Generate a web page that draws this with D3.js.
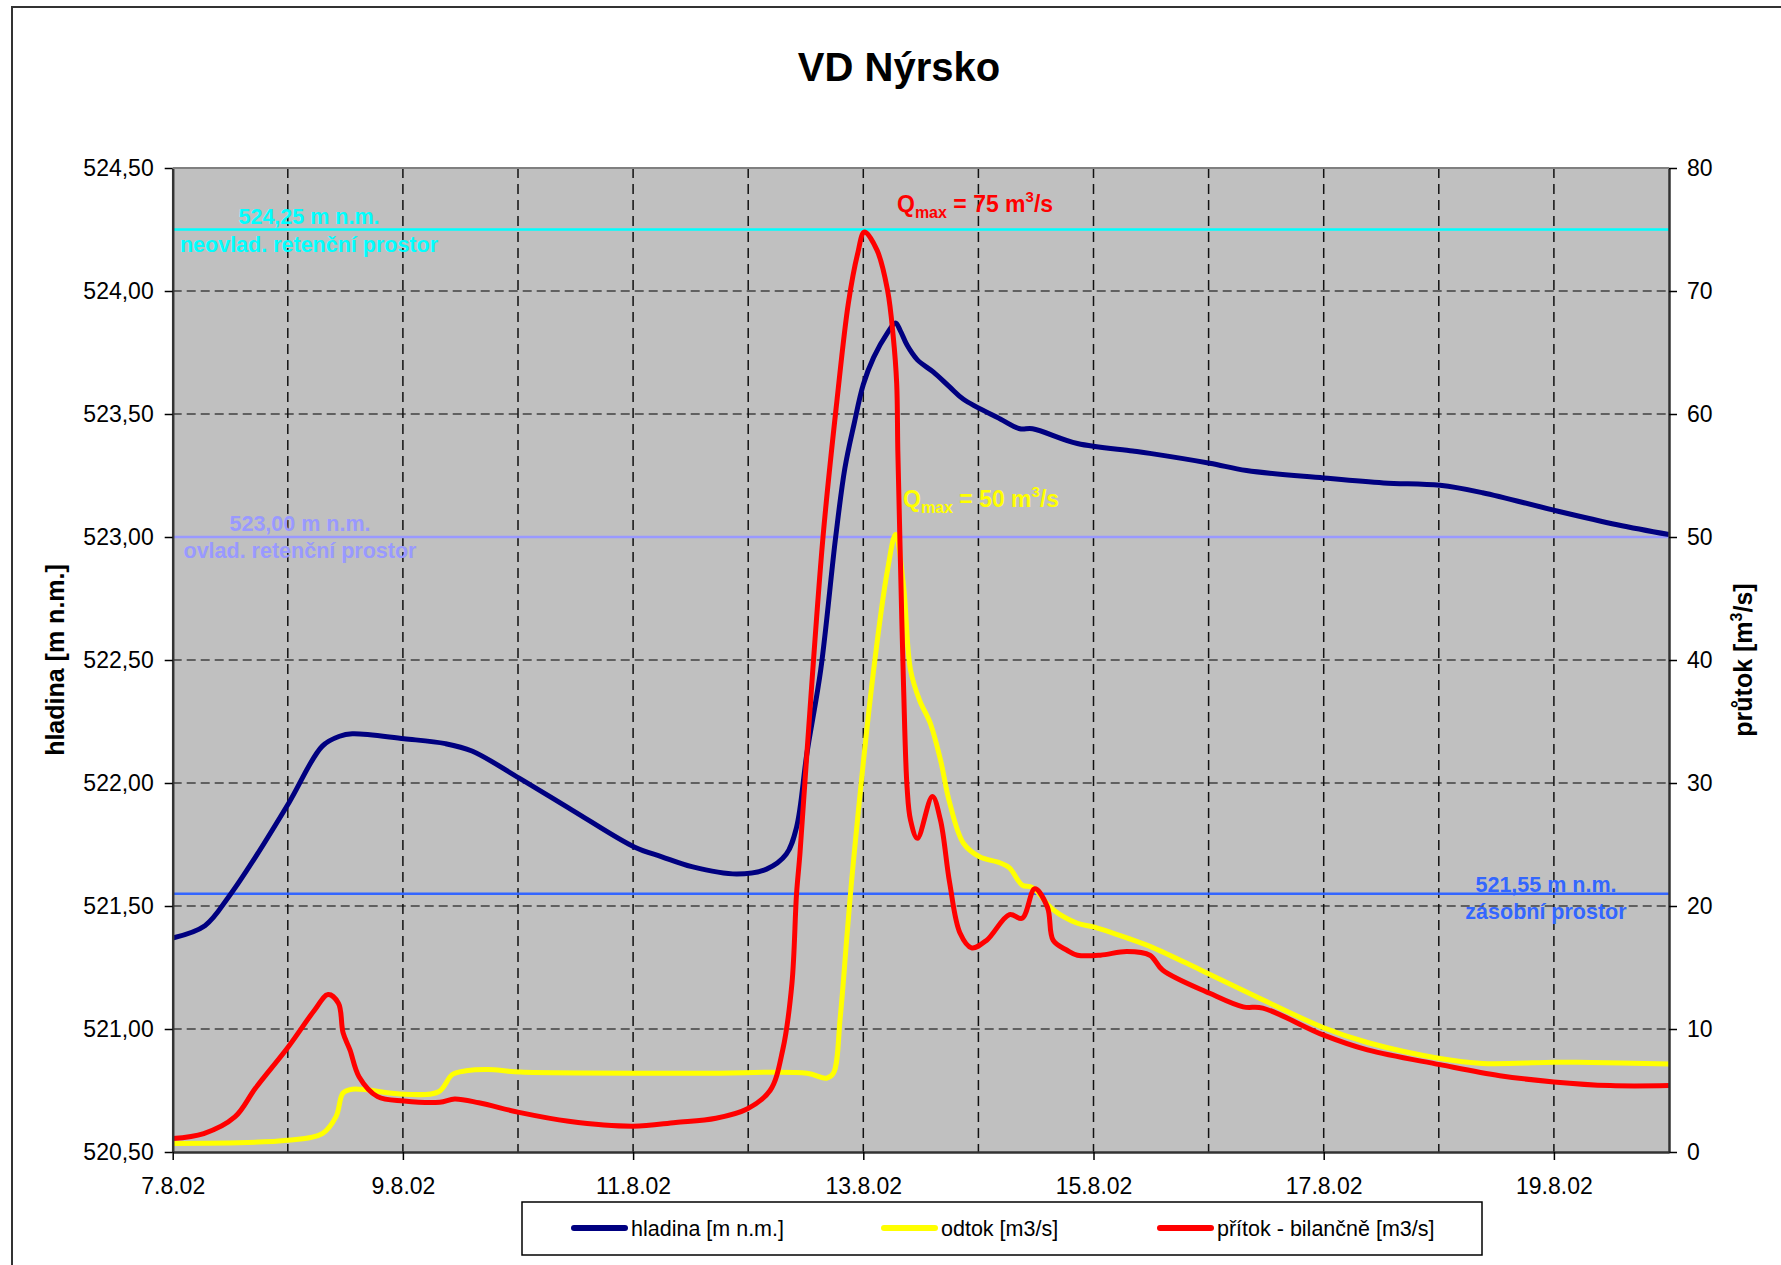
<!DOCTYPE html>
<html>
<head>
<meta charset="utf-8">
<script src="https://cdn.jsdelivr.net/npm/d3@7"></script>
<style>
  body { margin: 0; background: #fff; }
  svg { display: block; }
  text { font-family: Arial, "Liberation Sans", sans-serif; }
</style>
</head>
<body>
<svg id="chart" width="1781" height="1265"></svg>
<script>
// Time is given in days after 7.8.2002 00:00

// hladina [m n.m.]
var hladinaDays = [0, 0.28, 0.49, 0.72, 1.01, 1.30, 1.45, 1.56, 2.01, 2.37, 2.60, 3.01, 3.47, 4.01, 4.25, 4.51, 4.90, 5.16, 5.33, 5.42,
    5.51, 5.63, 5.76, 5.84, 5.92, 6.00, 6.09, 6.21, 6.28, 6.32, 6.38, 6.47, 6.61, 6.75, 6.87, 7.19, 7.36, 7.47, 7.86, 8.34,
    8.49, 9.01, 9.33, 10.0, 10.52, 11.01, 11.38, 11.99, 12.55, 13.0];
var hladina = [521.37, 521.42, 521.54, 521.70, 521.92, 522.15, 522.19, 522.20, 522.18, 522.16, 522.13, 522.02, 521.89, 521.74, 521.70, 521.66, 521.63, 521.65, 521.71, 521.82,
    522.12, 522.46, 523.00, 523.28, 523.46, 523.62, 523.73, 523.83, 523.87, 523.84, 523.78, 523.72, 523.67, 523.61, 523.56, 523.48, 523.44, 523.44, 523.38, 523.35,
    523.34, 523.30, 523.27, 523.24, 523.22, 523.21, 523.18, 523.11, 523.05, 523.01];

// odtok [m3/s]
var odtokDays = [0, 1.0, 1.30, 1.42, 1.48, 1.56, 2.01, 2.31, 2.43, 2.55, 2.74, 3.02, 4.58, 5.51, 5.68, 5.74, 5.80, 5.86, 5.91,
    6.09, 6.21, 6.28, 6.35, 6.41, 6.49, 6.58, 6.67, 6.75, 6.87, 7.01, 7.19, 7.27, 7.38, 7.47, 7.65, 7.86, 8.00, 8.29, 8.52,
    8.93, 9.42, 10.0, 10.38, 11.01, 11.38, 12.0, 12.2, 13.0];
var odtok = [0.7, 0.95, 1.5, 2.9, 4.8, 5.1, 4.7, 4.9, 6.3, 6.6, 6.7, 6.5, 6.4, 6.4, 6.0, 6.4, 11, 17.8, 23.2,
    39.2, 47.3, 50.2, 46, 39.2, 36.7, 34.9, 31.9, 28.4, 25.1, 24, 23.5, 23.1, 21.7, 21.5, 19.7, 18.6, 18.3, 17.4, 16.6,
    14.8, 12.6, 10.1, 8.9, 7.6, 7.2, 7.3, 7.3, 7.15];

// přítok - bilančně [m3/s]
var pritokDays = [0, 0.27, 0.54, 0.72, 1.0, 1.23, 1.35, 1.44, 1.48, 1.54, 1.62, 1.78, 2.01, 2.32, 2.45, 2.66, 3.02, 3.44, 4.0, 4.37,
    4.72, 4.99, 5.19, 5.30, 5.38, 5.42, 5.45, 5.51, 5.65, 5.77, 5.87, 5.95, 6.01, 6.12, 6.21, 6.26, 6.29, 6.30, 6.32, 6.35,
    6.38, 6.41, 6.47, 6.60, 6.67, 6.75, 6.84, 6.94, 7.07, 7.27, 7.38, 7.49, 7.60, 7.65, 7.77, 7.86, 8.06, 8.29, 8.49, 8.60,
    9.01, 9.30, 9.47, 10.0, 10.38, 11.01, 11.53, 12.0, 12.49, 13.0];
var pritok = [1.1, 1.5, 2.85, 5.2, 8.5, 11.5, 12.8, 12.1, 9.7, 8.3, 6.1, 4.5, 4.15, 4.05, 4.3, 4.0, 3.2, 2.5, 2.1, 2.4,
    2.75, 3.5, 5.0, 8.3, 13.7, 21, 24.3, 32.4, 50, 61, 69, 73, 74.8, 73.3, 70.1, 66.3, 62.5, 57, 49, 37.8,
    29.7, 27, 25.5, 28.9, 27, 21.9, 17.8, 16.6, 17.2, 19.3, 19.0, 21.4, 19.9, 17.2, 16.4, 16.0, 16.0, 16.3, 16.0, 14.8,
    12.9, 11.8, 11.7, 9.5, 8.3, 7.1, 6.2, 5.7, 5.4, 5.4];

// reference levels [m n.m.] and their labels
var refLevels = [524.25, 523.00, 521.55];
var refColors = ['#00FFFF', '#9999FF', '#3366FF'];
var refLabels = [
    ['524,25 m n.m.', 'neovlad. retenční prostor'],
    ['523,00 m n.m.', 'ovlad. retenční prostor'],
    ['521,55 m n.m.', 'zásobní prostor']
];

var levelTicks = [520.5, 521, 521.5, 522, 522.5, 523, 523.5, 524, 524.5];
var flowTicks = [0, 10, 20, 30, 40, 50, 60, 70, 80];
var dayTicks = [0, 2, 4, 6, 8, 10, 12];
var legendNames = ['hladina [m n.m.]', 'odtok [m3/s]', 'přítok - bilančně [m3/s]'];
var seriesColors = ['#000080', '#FFFF00', '#FF0000'];

var start = new Date(2002, 7, 7);
function toDate(d) { return new Date(start.getTime() + d * 86400000); }

var plot = { left: 172.7, right: 1669, top: 168, bottom: 1152 };
var svg = d3.select('#chart');

var czech = d3.formatLocale({ decimal: ',', thousands: ' ', grouping: [3], currency: ['', ' Kč'] });
var fmtLevel = czech.format('.2f');

var x = d3.scaleTime()
    .domain([start, toDate(13)])
    .range([plot.left, plot.right]);
var yL = d3.scaleLinear().domain([520.5, 524.5]).range([plot.bottom, plot.top]);
var yR = d3.scaleLinear().domain([0, 80]).range([plot.bottom, plot.top]);

//Outer frame (only top and left edge are visible on the original)
svg.append('rect')
    .attr('x', 12).attr('y', 7)
    .attr('width', 1800).attr('height', 1300)
    .attr('fill', 'none')
    .attr('stroke', '#333')
    .attr('stroke-width', 2);

svg.append('text')
    .attr('x', 899).attr('y', 81)
    .attr('text-anchor', 'middle')
    .attr('font-size', 40)
    .attr('font-weight', 'bold')
    .text('VD Nýrsko');

//Plot background
svg.append('rect')
    .attr('x', plot.left).attr('y', plot.top)
    .attr('width', plot.right - plot.left)
    .attr('height', plot.bottom - plot.top)
    .attr('fill', '#C0C0C0');

//Grid
var grid = svg.append('g').attr('class', 'grid');
grid.selectAll('.hgrid')
    .data(levelTicks.slice(1, -1))
    .enter().append('line')
    .attr('x1', plot.left).attr('x2', plot.right)
    .attr('y1', function(d) { return yL(d); })
    .attr('y2', function(d) { return yL(d); })
    .attr('stroke', '#404040')
    .attr('stroke-width', 1.5)
    .attr('stroke-dasharray', '9,5');
grid.selectAll('.vgrid')
    .data(d3.range(1, 13))
    .enter().append('line')
    .attr('x1', function(d) { return x(toDate(d)); })
    .attr('x2', function(d) { return x(toDate(d)); })
    .attr('y1', plot.top).attr('y2', plot.bottom)
    .attr('stroke', '#111')
    .attr('stroke-width', 1.5)
    .attr('stroke-dasharray', '10,6');

//Reference levels
svg.selectAll('.ref')
    .data(refLevels)
    .enter().append('line')
    .attr('x1', plot.left).attr('x2', plot.right)
    .attr('y1', function(d) { return yL(d); })
    .attr('y2', function(d) { return yL(d); })
    .attr('stroke', function(d, i) { return refColors[i]; })
    .attr('stroke-width', 2.5);

var refLabelX = [309, 300, 1546];
var refLabelDy = [[-6, 22], [-6, 21], [-2, 25]];
refLevels.forEach(function(lv, i) {
    var g = svg.append('g')
        .attr('fill', refColors[i])
        .attr('font-size', 21.5)
        .attr('font-weight', 'bold')
        .attr('text-anchor', 'middle');
    g.append('text')
        .attr('x', refLabelX[i]).attr('y', yL(lv) + refLabelDy[i][0])
        .text(refLabels[i][0]);
    g.append('text')
        .attr('x', refLabelX[i]).attr('y', yL(lv) + refLabelDy[i][1])
        .text(refLabels[i][1]);
});

//Series - smoothed like the original spreadsheet lines
var curve = d3.curveCatmullRom.alpha(0.5);
var lineL = d3.line().curve(curve)
    .x(function(d) { return x(toDate(d[0])); })
    .y(function(d) { return yL(d[1]); });
var lineR = d3.line().curve(curve)
    .x(function(d) { return x(toDate(d[0])); })
    .y(function(d) { return yR(d[1]); });

svg.append('path')
    .datum(d3.zip(hladinaDays, hladina))
    .attr('d', lineL)
    .attr('fill', 'none').attr('stroke', seriesColors[0])
    .attr('stroke-width', 5).attr('stroke-linejoin', 'round');
svg.append('path')
    .datum(d3.zip(odtokDays, odtok))
    .attr('d', lineR)
    .attr('fill', 'none').attr('stroke', seriesColors[1])
    .attr('stroke-width', 5).attr('stroke-linejoin', 'round');
svg.append('path')
    .datum(d3.zip(pritokDays, pritok))
    .attr('d', lineR)
    .attr('fill', 'none').attr('stroke', seriesColors[2])
    .attr('stroke-width', 5).attr('stroke-linejoin', 'round');

//Qmax labels
function qmaxLabel(xPos, yPos, color, value) {
    var t = svg.append('text')
        .attr('x', xPos).attr('y', yPos)
        .attr('fill', color)
        .attr('font-size', 23)
        .attr('font-weight', 'bold');
    t.append('tspan').text('Q');
    t.append('tspan').attr('font-size', 16).attr('dy', 6).text('max');
    t.append('tspan').attr('dy', -6).text(' = ' + value + ' m');
    t.append('tspan').attr('font-size', 15).attr('dy', -10).text('3');
    t.append('tspan').attr('dy', 10).text('/s');
}
qmaxLabel(897, 212, '#FF0000', d3.max(pritok).toFixed(0));
qmaxLabel(903, 507, '#FFFF00', d3.max(odtok).toFixed(0));

//Axes
var axisL = svg.append('g')
    .attr('transform', 'translate(' + plot.left + ',0)')
    .call(d3.axisLeft(yL).tickValues(levelTicks).tickFormat(fmtLevel).tickSize(8).tickSizeOuter(0).tickPadding(11));
var axisR = svg.append('g')
    .attr('transform', 'translate(' + plot.right + ',0)')
    .call(d3.axisRight(yR).tickValues(flowTicks).tickSize(8).tickSizeOuter(0).tickPadding(10));
var axisB = svg.append('g')
    .attr('transform', 'translate(0,' + plot.bottom + ')')
    .call(d3.axisBottom(x).tickValues(dayTicks.map(toDate))
        .tickFormat(d3.timeFormat('%-d.%-m.%y')).tickSize(8).tickSizeOuter(0));
axisB.selectAll('text').attr('dy', null).attr('y', 42);

[axisL, axisR, axisB].forEach(function(a) {
    a.selectAll('text').attr('font-size', 23).attr('font-family', null).attr('fill', '#000');
    a.selectAll('.tick line').attr('stroke', '#000').attr('stroke-width', 1.5);
    a.select('.domain').attr('stroke', '#333').attr('stroke-width', 2.5);
});
//top border of the plot
svg.append('line')
    .attr('x1', plot.left).attr('x2', plot.right)
    .attr('y1', plot.top).attr('y2', plot.top)
    .attr('stroke', '#808080').attr('stroke-width', 2);

//Axis titles
svg.append('text')
    .attr('transform', 'translate(64,660) rotate(-90)')
    .attr('text-anchor', 'middle')
    .attr('font-size', 25).attr('font-weight', 'bold')
    .text('hladina [m n.m.]');
var tR = svg.append('text')
    .attr('transform', 'translate(1752,660) rotate(-90)')
    .attr('text-anchor', 'middle')
    .attr('font-size', 25).attr('font-weight', 'bold');
tR.append('tspan').text('průtok [m');
tR.append('tspan').attr('font-size', 16).attr('dy', -10).text('3');
tR.append('tspan').attr('dy', 10).text('/s]');

//Legend
var legend = svg.append('g');
legend.append('rect')
    .attr('x', 522).attr('y', 1202)
    .attr('width', 960).attr('height', 53)
    .attr('fill', '#fff').attr('stroke', '#000').attr('stroke-width', 1.5);
var legendX = [571, 881, 1157];
legendNames.forEach(function(name, i) {
    legend.append('line')
        .attr('x1', legendX[i] + 3).attr('x2', legendX[i] + 54)
        .attr('y1', 1228).attr('y2', 1228)
        .attr('stroke', seriesColors[i]).attr('stroke-width', 6)
        .attr('stroke-linecap', 'round');
    legend.append('text')
        .attr('x', legendX[i] + 60).attr('y', 1236)
        .attr('font-size', 21.5)
        .text(name);
});
</script>
</body>
</html>
